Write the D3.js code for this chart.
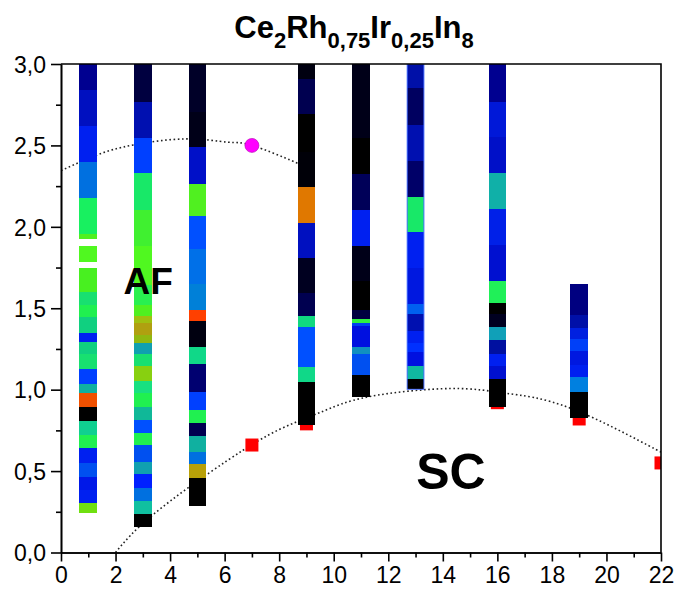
<!DOCTYPE html>
<head>
    <meta charset="utf-8">
    <title>Ce2Rh0,75Ir0,25In8</title>
    <script src="https://d3js.org/d3.v7.min.js"></script>
    <style>
        body { margin: 0; background: #fff; }
        svg { font-family: "Liberation Sans", Arial, Helvetica, sans-serif; }
    </style>
</head>
<body>
    <script>
        // columns: x position, segment edges (top -> bottom) and the colour of each segment
        const columnX = [1, 3, 5, 9, 11, 13, 16, 19]

        const edges1 = [3.0, 2.84, 2.619, 2.396, 2.179, 1.956, 1.923, 1.882, 1.782, 1.749, 1.602, 1.52, 1.448, 1.35, 1.295, 1.217, 1.127, 1.035, 0.978, 0.895, 0.809, 0.722, 0.644, 0.551, 0.464, 0.384, 0.302, 0.241]
        const colors1 = ["#000090", "#0010c0", "#0020f0", "#0070e0", "#18f060", "#50f020", null, "#50f820", null, "#48f020", "#18e070", "#20f050", "#10d080", "#0020f0", "#10d080", "#18e070", "#0040ff", "#10b0a0", "#f05000", "#000000", "#10d090", "#20f050", "#0020f0", "#0050f0", "#0018e8", "#0020f0", "#70e010"]

        const edges3 = [3.0, 2.768, 2.547, 2.329, 2.103, 1.884, 1.643, 1.52, 1.452, 1.408, 1.336, 1.285, 1.219, 1.145, 1.055, 0.981, 0.895, 0.814, 0.736, 0.66, 0.558, 0.482, 0.394, 0.316, 0.236, 0.158]
        const colors3 = ["#000040", "#0010b0", "#0040ff", "#18e868", "#40f030", "#50f820", "#28f050", "#50f020", "#a0c010", "#b0a010", "#90b810", "#10a0b0", "#18e070", "#88d010", "#18e080", "#20f050", "#10b898", "#0050ff", "#20f050", "#0050f0", "#10a0b0", "#0020ff", "#0070e0", "#10c0a0", "#000000"]

        const edges5 = [3.0, 2.707, 2.49, 2.265, 2.067, 1.866, 1.651, 1.489, 1.424, 1.26, 1.158, 0.986, 0.875, 0.797, 0.715, 0.615, 0.544, 0.459, 0.286]
        const colors5 = ["#000028", "#000018", "#0010c8", "#50f020", "#0050ff", "#0070e8", "#0080d8", "#ff4000", "#000010", "#10d888", "#000070", "#0040ff", "#20f050", "#000050", "#10b0a0", "#0070e0", "#b8a008", "#000000"]

        const edges9 = [3.0, 2.908, 2.691, 2.461, 2.247, 2.025, 1.81, 1.592, 1.452, 1.383, 1.141, 1.045, 0.783]
        const colors9 = ["#000010", "#000050", "#000000", "#000008", "#e07800", "#0010c0", "#000020", "#000050", "#10d880", "#0050ff", "#10d888", "#000000"]

        const edges11 = [3.0, 2.544, 2.324, 2.105, 1.884, 1.667, 1.489, 1.432, 1.408, 1.391, 1.264, 1.219, 1.09, 0.957]
        const colors11 = ["#000018", "#000000", "#000058", "#0020f0", "#000018", "#000000", "#000040", "#30f040", "#0040f0", "#0010e0", "#1090c0", "#0050f0", "#000000"]

        const edges13 = [3.0, 2.851, 2.625, 2.404, 2.185, 1.97, 1.749, 1.526, 1.465, 1.362, 1.288, 1.233, 1.145, 1.064, 1.002]
        const colors13 = ["#0010a8", "#000060", "#0010b0", "#000068", "#18e868", "#0020f0", "#0018e0", "#0060f0", "#0010b0", "#0020f0", "#0030ff", "#0010e0", "#10b8a0", "#000000"]

        const edges16 = [3.0, 2.768, 2.554, 2.329, 2.11, 1.888, 1.667, 1.53, 1.465, 1.383, 1.305, 1.219, 1.145, 1.064, 0.895]
        const colors16 = ["#000090", "#0018d8", "#0010c8", "#10b0a8", "#0020e8", "#0010d0", "#20f058", "#000000", "#000020", "#10a0b8", "#0010a0", "#0020f0", "#0010d0", "#000000"]

        const edges19 = [1.647, 1.459, 1.377, 1.309, 1.237, 1.151, 1.076, 0.988, 0.824]
        const colors19 = ["#000080", "#0010a8", "#0020e0", "#0040f8", "#0018e0", "#0020f0", "#0080e0", "#000000"]

        const columnEdges = [edges1, edges3, edges5, edges9, edges11, edges13, edges16, edges19]
        const columnColors = [colors1, colors3, colors5, colors9, colors11, colors13, colors16, colors19]

        // superconducting Tc points and the AF point
        const scX = [7, 9, 16, 19, 22]
        const scY = [0.66, 0.79, 0.92, 0.82, 0.55]
        const afX = [7]
        const afY = [2.5]

        // dotted guide lines
        const afLine = [[0, 2.345], [1.3, 2.44], [2.65, 2.503], [4.6, 2.54], [6.1, 2.52], [7, 2.5], [8.6, 2.396], [9, 2.36]]
        const scLine = [[2, 0], [3.4, 0.236], [6.1, 0.565], [8, 0.755], [9.5, 0.86], [11.3, 0.957], [14.3, 1.007], [16.3, 0.978], [18.7, 0.885], [21.8, 0.634], [22.3, 0.6]]

        const xTicks = d3.range(0, 23, 2)
        const xMinor = d3.range(1, 22, 2)
        const yTicks = [0, 0.5, 1, 1.5, 2, 2.5, 3]
        const yMinor = [0.25, 0.75, 1.25, 1.75, 2.25, 2.75]

        const width = 676
        const height = 590
        const plotLeft = 61, plotRight = 661, plotTop = 64, plotBottom = 552.5
        const barWidth = 0.65

        const vis = d3.select("body").append("svg")
            .attr("width", width)
            .attr("height", height)

        const x = d3.scaleLinear().domain([0, 22]).range([plotLeft, plotRight])
        const y = d3.scaleLinear().domain([0, 3]).range([plotBottom, plotTop])

        vis.append("clipPath").attr("id", "plot")
            .append("rect")
            .attr("x", plotLeft).attr("y", plotTop)
            .attr("width", plotRight - plotLeft).attr("height", plotBottom - plotTop)

        const plot = vis.append("g").attr("clip-path", "url(#plot)")

        const line = d3.line()
            .x((d) => x(d[0]))
            .y((d) => y(d[1]))
            .curve(d3.curveNatural)

        plot.selectAll("path.guide")
            .data([afLine, scLine])
            .join("path")
                .attr("class", "guide")
                .attr("d", line)
                .attr("fill", "none")
                .attr("stroke", "#222")
                .attr("stroke-width", 1.6)
                .attr("stroke-dasharray", "1.6,2.6")

        const sq = 13
        plot.selectAll("rect.sc")
            .data(scX.map((d, i) => ({ x: d, y: scY[i] })))
            .join("rect")
                .attr("class", "sc")
                .attr("x", (d) => x(d.x) - sq / 2)
                .attr("y", (d) => y(d.y) - sq / 2)
                .attr("width", sq)
                .attr("height", sq)
                .attr("fill", "#ff0000")

        columnX.forEach((cx, c) => {
            const edges = columnEdges[c]
            const segs = columnColors[c].map((col, i) => ({ top: edges[i], bot: edges[i + 1], color: col }))
                .filter((d) => d.color)
            const g = plot.append("g")
            g.selectAll("rect")
                .data(segs)
                .join("rect")
                    .attr("x", x(cx - barWidth / 2))
                    .attr("width", x(barWidth) - x(0))
                    .attr("y", (d) => y(d.top))
                    .attr("height", (d) => y(d.bot) - y(d.top))
                    .attr("fill", (d) => d.color)
                    .attr("shape-rendering", "crispEdges")
            if (cx === 13) {
                g.append("rect")
                    .attr("x", x(cx - barWidth / 2) + 0.5)
                    .attr("width", x(barWidth) - x(0) - 1)
                    .attr("y", y(edges[0]))
                    .attr("height", y(edges[edges.length - 1]) - y(edges[0]))
                    .attr("fill", "none")
                    .attr("stroke", "#4a70ff")
                    .attr("stroke-width", 1)
            }
        })

        plot.selectAll("circle.af")
            .data(afX.map((d, i) => ({ x: d, y: afY[i] })))
            .join("circle")
                .attr("class", "af")
                .attr("cx", (d) => x(d.x))
                .attr("cy", (d) => y(d.y))
                .attr("r", 7)
                .attr("fill", "#ff00ff")
                .attr("stroke", "#b000b0")
                .attr("stroke-width", 0.6)

        // axes
        const fmt = (d) => d3.format(".1f")(d).replace(".", ",")

        const xAxis = vis.append("g")
            .attr("transform", `translate(0, ${plotBottom})`)
            .call(d3.axisBottom(x).tickValues(xTicks).tickSize(9).tickSizeOuter(0).tickPadding(3))
        const xAxisMinor = vis.append("g")
            .attr("transform", `translate(0, ${plotBottom})`)
            .call(d3.axisBottom(x).tickValues(xMinor).tickSize(5).tickSizeOuter(0).tickFormat(""))

        const yAxis = vis.append("g")
            .attr("transform", `translate(${plotLeft}, 0)`)
            .call(d3.axisLeft(y).tickValues(yTicks).tickSize(10).tickSizeOuter(0).tickFormat(fmt).tickPadding(5))
        const yAxisMinor = vis.append("g")
            .attr("transform", `translate(${plotLeft}, 0)`)
            .call(d3.axisLeft(y).tickValues(yMinor).tickSize(5).tickSizeOuter(0).tickFormat(""))

        vis.selectAll(".domain, .tick line")
            .attr("stroke", "#000")
            .attr("stroke-width", 1.6)
        vis.selectAll(".tick text")
            .attr("fill", "#000")
            .style("font-size", "23px")
            .style("font-family", "'Liberation Sans', Arial, sans-serif")
        xAxis.selectAll(".tick text").attr("dy", "0.8em")
        yAxis.selectAll(".tick text").attr("dy", "0.36em")

        // frame on top and right
        vis.append("path")
            .attr("d", `M${plotLeft},${plotTop}H${plotRight}V${plotBottom}`)
            .attr("fill", "none")
            .attr("stroke", "#000")
            .attr("stroke-width", 1.6)

        // region labels
        vis.append("text")
            .attr("x", x(3.2)).attr("y", y(1.59))
            .attr("text-anchor", "middle")
            .style("font-weight", "bold")
            .style("font-size", "37px")
            .text("AF")
        vis.append("text")
            .attr("x", x(14.3)).attr("y", y(0.39))
            .attr("text-anchor", "middle")
            .style("font-weight", "bold")
            .style("font-size", "50px")
            .text("SC")

        // title with subscripts
        const title = vis.append("text")
            .attr("x", 354).attr("y", 38)
            .attr("text-anchor", "middle")
            .style("font-weight", "bold")
            .style("font-size", "31px")
        const parts = [["Ce", false], ["2", true], ["Rh", false], ["0,75", true], ["Ir", false], ["0,25", true], ["In", false], ["8", true]]
        parts.forEach(([t, sub], i) => {
            const prevSub = i > 0 && parts[i - 1][1]
            title.append("tspan")
                .attr("dy", sub ? 10 : (prevSub ? -10 : 0))
                .style("font-size", sub ? "22px" : "31px")
                .text(t)
        })
    </script>
</body>
